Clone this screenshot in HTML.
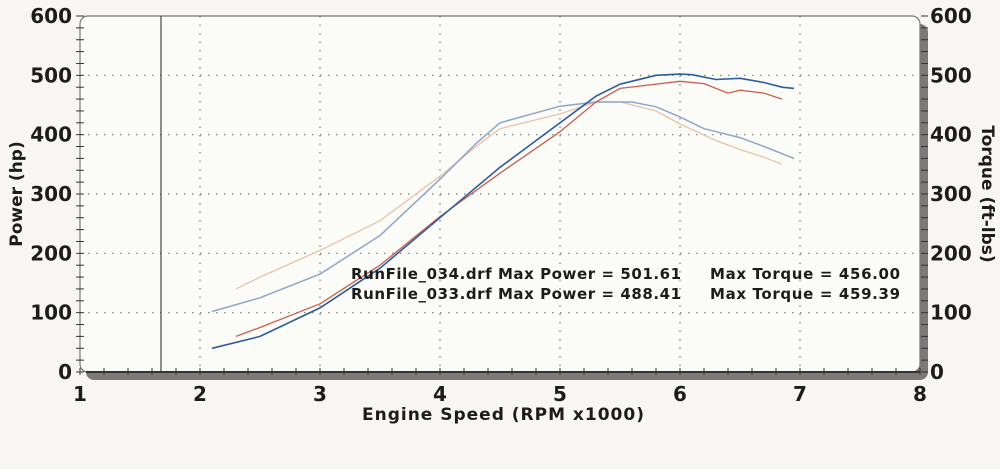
<!DOCTYPE html>
<html><head><meta charset="utf-8"><style>
html,body{margin:0;padding:0;background:#f7f6f2;}
svg{display:block;}
text{font-family:"DejaVu Sans","Liberation Sans",sans-serif;font-weight:bold;fill:#1c1c1c;}
</style></head><body>
<svg id="chart" width="1000" height="469" viewBox="0 0 1000 469">
<g id="frame"></g><g id="grid"></g><g id="axes"></g><g id="series"></g>
<text x="351" y="279" font-size="15" textLength="330">RunFile_034.drf Max Power = 501.61</text>
<text x="710" y="279" font-size="15" textLength="190">Max Torque = 456.00</text>
<text x="351" y="299" font-size="15" textLength="330">RunFile_033.drf Max Power = 488.41</text>
<text x="710" y="299" font-size="15" textLength="190">Max Torque = 459.39</text>
<text x="503" y="420" font-size="17" text-anchor="middle" textLength="282">Engine Speed (RPM x1000)</text>
<text transform="translate(22,194) rotate(-90)" font-size="17" text-anchor="middle">Power (hp)</text>
<text transform="translate(982,194) rotate(90)" font-size="17" text-anchor="middle">Torque (ft-lbs)</text>
</svg>
<script>
const xTicks = [1,2,3,4,5,6,7,8];
const yTicks = [0,100,200,300,400,500,600];
const rpm034P = [2.1,2.5,3.0,3.5,4.0,4.5,5.0,5.3,5.5,5.8,6.0,6.1,6.3,6.5,6.7,6.85,6.95];
const pow034 = [40,60,108,175,260,345,420,465,485,500,502,501,493,495,488,480,478];
const rpm033P = [2.3,2.5,3.0,3.5,4.0,4.5,5.0,5.3,5.5,6.0,6.2,6.4,6.5,6.7,6.85];
const pow033 = [60,75,115,180,262,335,405,455,478,490,486,470,475,470,460];
const rpm034T = [2.1,2.5,3.0,3.5,4.0,4.3,4.5,5.0,5.3,5.6,5.8,6.0,6.2,6.5,6.7,6.95];
const tq034 = [102,125,165,230,325,385,420,448,455,455,447,430,410,395,380,360];
const rpm033T = [2.3,2.5,3.0,3.5,4.0,4.3,4.5,5.0,5.3,5.5,5.8,6.0,6.3,6.5,6.7,6.85];
const tq033 = [140,160,205,255,330,380,410,435,455,455,440,418,390,375,362,350];
const markerRpm = 1.675;

const NS="http://www.w3.org/2000/svg";
const X0=80,X1=920,Y0=372,Y1=16;
const xs=r=>X0+(r-1)*(X1-X0)/7;
const ys=v=>Y0-v*(Y0-Y1)/600;
function mk(parent,tag,attrs){const e=document.createElementNS(NS,tag);for(const k in attrs)e.setAttribute(k,attrs[k]);document.getElementById(parent).appendChild(e);return e;}

let e;
e=mk('frame','rect',{x:X0+6,y:Y1+8,width:X1-X0+2,height:Y0-Y1,rx:8,fill:'#7e7878'});


e=mk('frame','rect',{x:X0,y:Y1,width:X1-X0,height:Y0-Y1,rx:8,fill:'#fbfbf8',stroke:'#777','stroke-width':1.2});



for(const t of xTicks.slice(1,-1)){
  e=mk('grid','line',{x1:xs(t),x2:xs(t),y1:Y1,y2:Y0,stroke:'#777','stroke-width':1.2,'stroke-dasharray':'1.5 7'});
  
  
}
for(const t of yTicks.slice(1,-1)){
  e=mk('grid','line',{x1:X0,x2:X1,y1:ys(t),y2:ys(t),stroke:'#777','stroke-width':1.2,'stroke-dasharray':'1.5 6.5'});
  
  
}
e=mk('grid','line',{x1:xs(markerRpm),x2:xs(markerRpm),y1:Y1,y2:Y0,stroke:'#444','stroke-width':1.2});



e=mk('axes','line',{x1:X0+6,x2:X1,y1:Y0,y2:Y0,stroke:'#333','stroke-width':2});


for(let r=1;r<=8.001;r+=0.2){
  e=mk('axes','line',{x1:xs(r),x2:xs(r),y1:Y0-4,y2:Y0+3,stroke:'#333','stroke-width':1});
  
  
}
for(let v=0;v<=600;v+=20){
  e=mk('axes','line',{x1:X0-4,x2:X0+4,y1:ys(v),y2:ys(v),stroke:'#333','stroke-width':1});
  
  
  e=mk('axes','line',{x1:X1+1,x2:X1+8,y1:ys(v),y2:ys(v),stroke:'#333','stroke-width':1});
  
  
}
for(const t of xTicks){
  e=mk('axes','text',{x:xs(t),y:401,'font-size':20,'text-anchor':'middle'});
  e.textContent=t;
  
  
}
for(const t of yTicks){
  e=mk('axes','text',{x:X0-8,y:ys(t)+7,'font-size':20,'text-anchor':'end'});
  e.textContent=t;
  
  
  e=mk('axes','text',{x:X1+10,y:ys(t)+7,'font-size':20,'text-anchor':'start'});
  e.textContent=t;
  
  
}
function line(rs,vs,color,w,name){
  const d=rs.map((r,i)=>(i?'L':'M')+xs(r).toFixed(1)+' '+ys(vs[i]).toFixed(1)).join(' ');
  const p=mk('series','path',{d:d,fill:'none',stroke:color,'stroke-width':w,'stroke-linejoin':'round'});
  
  
}
line(rpm033T,tq033,'#e8c2a8',1.3,'torque-run033');
line(rpm034T,tq034,'#8fa6c8',1.5,'torque-run034');
line(rpm033P,pow033,'#c8604e',1.3,'power-run033');
line(rpm034P,pow034,'#2e5e9a',1.6,'power-run034');
</script>
</body></html>
